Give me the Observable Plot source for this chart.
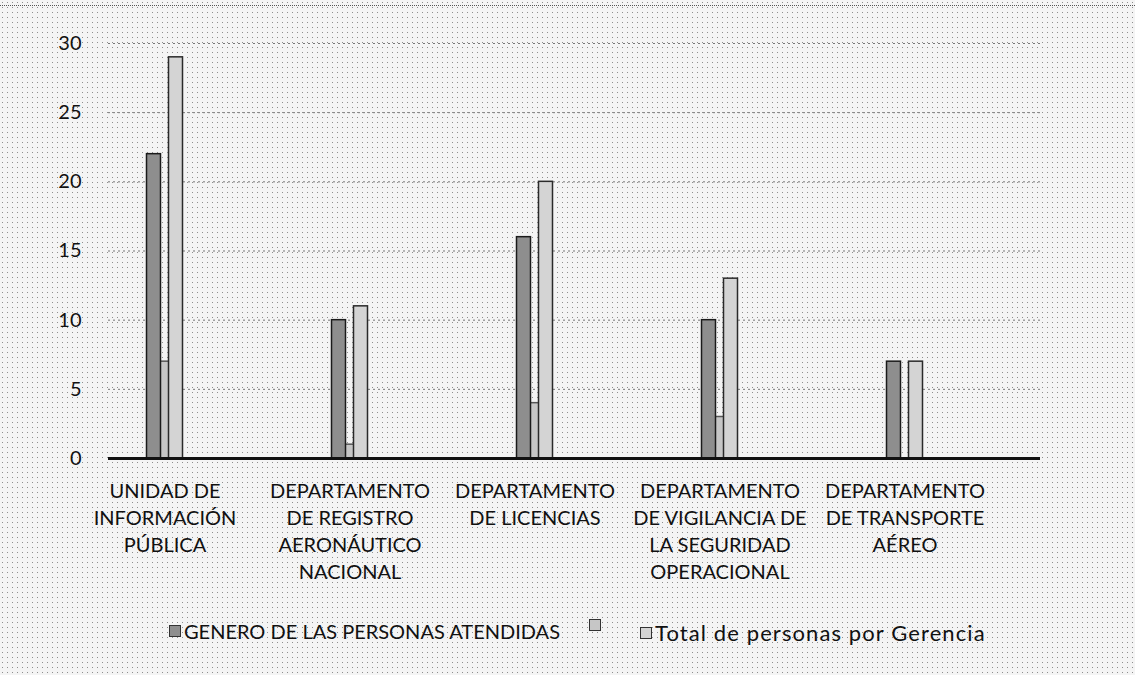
<!DOCTYPE html>
<html>
<head>
<meta charset="utf-8">
<script src="https://cdn.jsdelivr.net/npm/d3@7"></script>
<script src="https://cdn.jsdelivr.net/npm/@observablehq/plot@0.6"></script>
<style>
  html, body { margin: 0; padding: 0; }
  body {
    width: 1135px; height: 675px; overflow: hidden; position: relative;
    background-color: #f4f4f4;
    background-image: radial-gradient(#8e8e8e 0.6px, transparent 0.95px);
    background-size: 5px 5px;
    font-family: Lato, "Liberation Sans", sans-serif;
  }
  #topline { position: absolute; left: 0; top: 5px; width: 1135px; border-top: 1px dotted #555; }
  #chart { position: absolute; left: 0; top: 0; }
  #legend { position: absolute; top: 619px; left: 0; width: 1135px; height: 26px; font-size: 20px; color: #111; }
  .item { position: absolute; display: flex; align-items: center; white-space: nowrap; }
  .sw { width: 10px; height: 10px; border: 1.5px solid #333; margin-right: 3px; display: inline-block; }
</style>
</head>
<body>
<div id="topline"></div>
<div id="chart"></div>
<div id="legend"></div>
<script>
const categories = [
  "UNIDAD DE\nINFORMACIÓN\nPÚBLICA",
  "DEPARTAMENTO\nDE REGISTRO\nAERONÁUTICO\nNACIONAL",
  "DEPARTAMENTO\nDE LICENCIAS",
  "DEPARTAMENTO\nDE VIGILANCIA DE\nLA SEGURIDAD\nOPERACIONAL",
  "DEPARTAMENTO\nDE TRANSPORTE\nAÉREO"
];
const genero = [22, 10, 16, 10, 7];
const segundo = [7, 1, 4, 3, 0];
const total = [29, 11, 20, 13, 7];
const seriesNames = ["GENERO DE LAS PERSONAS ATENDIDAS", "", "Total de personas por Gerencia"];
const yTicks = [0, 5, 10, 15, 20, 25, 30];

const seriesValues = [genero, segundo, total];
const fills = ["#8e8e8e", "#c6c6c6", "#d4d4d4"];
const strokes = ["#1a1a1a", "#555", "#2a2a2a"];
const offsets = [-11, 0, 11];
const widths = [14, 12, 14];

const rows = seriesValues.map((vals, s) => categories.map((c, i) => ({cat: c, value: vals[i], s})));

const bandW = 185;

const barMarks = [1, 0, 2].map(s => Plot.barY(rows[s], {
  x: "cat", y: "value",
  fill: fills[s], stroke: strokes[s], strokeWidth: 1.5,
  insetLeft: (bandW - widths[s]) / 2, insetRight: (bandW - widths[s]) / 2, dx: offsets[s],
  filter: d => d.value > 0
}));

const chart = Plot.plot({
  width: 1135,
  height: 600,
  marginTop: 43,
  marginBottom: 142,
  marginLeft: 108,
  marginRight: 95,
  style: {background: "transparent", fontFamily: "Lato, 'Liberation Sans', sans-serif", fontSize: "20px", color: "#111"},
  x: {domain: categories, range: [72, 997], padding: 0, label: null},
  y: {domain: [0, 30], label: null},
  marks: [
    Plot.ruleY(yTicks.slice(1), {stroke: "#777", strokeWidth: 1, strokeDasharray: "2,3"}),
    ...barMarks,
    Plot.ruleY([0], {stroke: "#111", strokeWidth: 3}),
    Plot.axisY({ticks: yTicks, tickSize: 0, tickPadding: 27, fontSize: 20, label: null}),
    Plot.axisX({tickSize: 0, tickPadding: 20, fontSize: 20, lineHeight: 1.35, label: null, tickFormat: d => d})
  ]
});
document.getElementById("chart").appendChild(chart);

const legend = document.getElementById("legend");
const lefts = [169, 589, 640];
const spacing = ["0px", "0px", "1.1px"];
const sizes = ["20px", "20px", "22px"];
seriesNames.forEach((name, s) => {
  const it = document.createElement("div");
  it.className = "item";
  it.style.left = lefts[s] + "px";
  const sw = document.createElement("span");
  sw.className = "sw";
  sw.style.background = fills[s];
  it.appendChild(sw);
  const t = document.createElement("span");
  t.textContent = name;
  t.style.letterSpacing = spacing[s];
  t.style.fontSize = sizes[s];
  it.appendChild(t);
  legend.appendChild(it);
});
</script>
</body>
</html>
